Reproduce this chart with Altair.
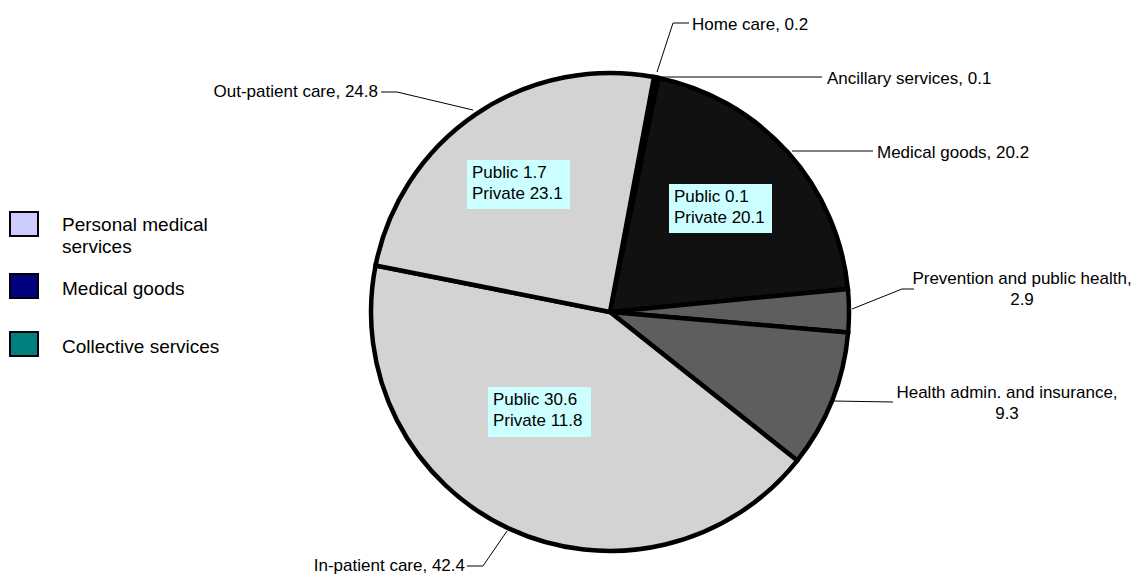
import math
import altair as alt
import pandas as pd

# ---------------- data ----------------
categories = ["Home care", "Ancillary services", "Medical goods",
              "Prevention and public health", "Health admin. and insurance",
              "In-patient care", "Out-patient care"]
values = [0.2, 0.1, 20.2, 2.9, 9.3, 42.4, 24.8]
slice_colors = ["#d3d3d3", "#111111", "#111111", "#5e5e5e", "#5e5e5e",
                "#d3d3d3", "#d3d3d3"]
label_breaks = ["", "", "", "\n", "\n", "", ""]
split_texts = ["Public 1.7\nPrivate 23.1", "Public 0.1\nPrivate 20.1",
               "Public 30.6\nPrivate 11.8"]
legend_labels = ["Personal medical\nservices", "Medical goods", "Collective services"]
legend_colors = ["#ccccff", "#000080", "#008080"]

# ---------------- layout (page pixels, annotation only) ----------------
M = 8  # page margin
W, H = 1141 - 2 * M, 584 - 2 * M
CX, CY, R = 610, 312, 239
START = math.radians(10.6)

label_pos = [  # x, y (first line centre), align
    (692, 25, "left"), (827, 79, "left"), (877, 153, "left"),
    (1022, 279, "center"), (1007, 393, "center"),
    (465, 566, "right"), (378, 92, "right"),
]
leaders = [
    [(657, 72), (673, 23), (689, 23)],
    [(656, 77), (822, 77)],
    [(792, 151), (873, 151)],
    [(852, 309), (902, 289), (914, 289)],
    [(833, 401), (893, 402)],
    [(507, 531), (483, 566), (467, 566)],
    [(473, 110), (397, 92), (381, 92)],
]
boxes = [(467, 160, 570, 209), (669, 184, 772, 233), (488, 387, 591, 437)]
legend_sq = [(10, 212, 38, 236), (10, 274, 38, 298), (10, 332, 38, 356)]
legend_txt_y = [225, 289, 347]

# ---------------- tables ----------------
pie_df = pd.DataFrame({"cat": categories, "value": values,
                       "ord": list(range(len(values)))})

lab_df = pd.DataFrame({
    "text": [f"{c},{b if b else ' '}{v}" for c, v, b in zip(categories, values, label_breaks)],
    "x": [p[0] - M for p in label_pos],
    "y": [p[1] - M for p in label_pos],
    "align": [p[2] for p in label_pos],
})
lead_rows = []
for i, pts in enumerate(leaders):
    for k, (px_, py_) in enumerate(pts):
        lead_rows.append({"id": i, "k": k, "x": px_ - M, "y": py_ - M})
lead_df = pd.DataFrame(lead_rows)

box_df = pd.DataFrame({
    "text": split_texts,
    "x": [b[0] - M for b in boxes], "y": [b[1] - M for b in boxes],
    "x2": [b[2] - M for b in boxes], "y2": [b[3] - M for b in boxes],
    "tx": [b[0] + 5 - M for b in boxes],
    "ty": [b[1] + 13 - M for b in boxes],
})
leg_df = pd.DataFrame({
    "label": legend_labels, "color": legend_colors,
    "x": [s[0] - M for s in legend_sq], "y": [s[1] - M for s in legend_sq],
    "x2": [s[2] - M for s in legend_sq], "y2": [s[3] - M for s in legend_sq],
    "tx": [62 - M] * 3, "ty": [t - M for t in legend_txt_y],
})

FONT = "Liberation Sans"
px = lambda f: alt.X(f"{f}:Q", scale=None, axis=None)
py = lambda f: alt.Y(f"{f}:Q", scale=None, axis=None)

# ---------------- marks ----------------
pie = alt.Chart(pie_df).mark_arc(radius=R, stroke="black", strokeWidth=4.5).encode(
    theta=alt.Theta("value:Q", stack=True,
                    scale=alt.Scale(range=[START, START + 2 * math.pi])),
    color=alt.Color("cat:N", scale=alt.Scale(domain=categories, range=slice_colors),
                    legend=None),
    order=alt.Order("ord:Q"),
    x=alt.value(CX - M), y=alt.value(CY - M),
)

lines = alt.Chart(lead_df).mark_line(color="black", strokeWidth=1).encode(
    x=px("x"), y=py("y"), detail="id:N", order="k:Q")

text_layers = []
for al in ["left", "center", "right"]:
    text_layers.append(
        alt.Chart(lab_df[lab_df["align"] == al]).mark_text(
            align=al, baseline="middle", font=FONT, fontSize=17, lineBreak="\n",
            lineHeight=21, color="black").encode(x=px("x"), y=py("y"), text="text:N"))

box_rect = alt.Chart(box_df).mark_rect(color="#ccffff").encode(
    x=px("x"), x2="x2", y=py("y"), y2="y2")
box_text = alt.Chart(box_df).mark_text(
    align="left", baseline="middle", font=FONT, fontSize=17, lineBreak="\n",
    lineHeight=21, color="black").encode(x=px("tx"), y=py("ty"), text="text:N")

leg_rect = alt.Chart(leg_df).mark_rect(stroke="black", strokeWidth=2).encode(
    x=px("x"), x2="x2", y=py("y"), y2="y2",
    color=alt.Color("color:N", scale=None))
leg_text = alt.Chart(leg_df).mark_text(
    align="left", baseline="middle", font=FONT, fontSize=19, lineBreak="\n",
    lineHeight=22, color="black").encode(x=px("tx"), y=py("ty"), text="label:N")

chart = alt.layer(pie, lines, *text_layers, box_rect, box_text, leg_rect, leg_text).properties(
    width=W, height=H, padding=0, autosize=alt.AutoSizeParams(type="none"),
    background="white",
).configure_view(stroke=None)

chart.save("out.html", embed_options={"renderer": "svg", "actions": False})
